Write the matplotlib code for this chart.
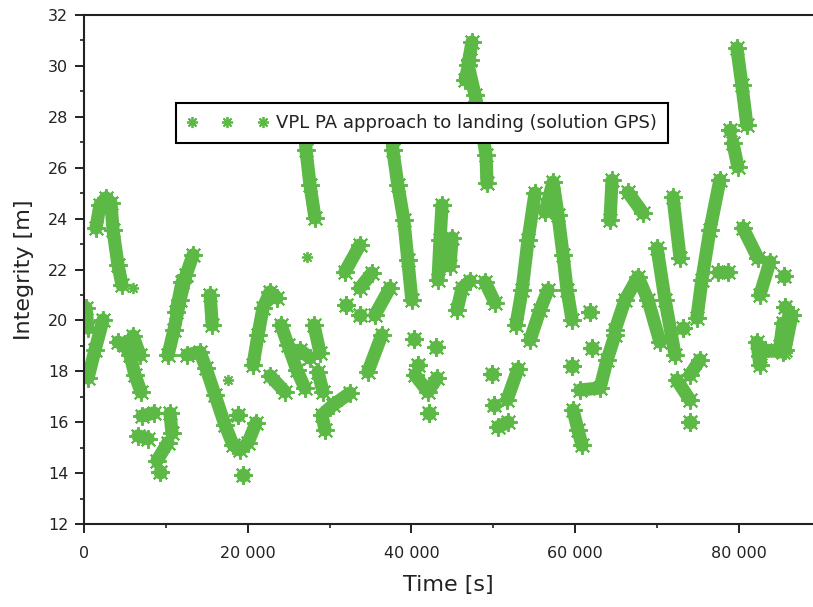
import matplotlib
matplotlib.use("Agg")
import matplotlib.pyplot as plt
from matplotlib.lines import Line2D
from matplotlib.ticker import MultipleLocator, FuncFormatter

GREEN = "#5cb946"
DARK = "#222222"

# continuous runs of the VPL series: time [s] and integrity [m]
seg_times = [
    [200, 450],
    [452, 1308, 2286],
    [1430, 1919, 2653, 3264, 3508, 4120, 4609],
    [4120, 4976, 5587, 6198, 6932],
    [5954, 6809],
    [7054, 8521],
    [10477, 10721],
    [6565, 7787],
    [10232, 8888],
    [10232, 10966, 11699, 12433, 13289],
    [11210, 11944],
    [15390, 15634],
    [12555, 14144, 14878, 15978, 17200, 18178, 19034, 20012, 20990],
    [20624, 21235, 21847, 22703, 23558],
    [22703, 24537],
    [24047, 24903, 26003, 26981],
    [26370, 27593],
    [28081, 28815],
    [28570, 29181],
    [26859, 27103, 27592, 28203],
    [29425, 29059, 30404, 32482],
    [31850, 33684],
    [33684, 35151],
    [35518, 37352],
    [34662, 36374],
    [37474, 37719, 38330, 39063, 39553, 40042],
    [40431, 42020, 43120],
    [43732, 43487, 43242],
    [44955, 44710],
    [45566, 46177, 47155],
    [48988, 50211],
    [47400, 46910, 47767, 48622, 49111, 49233],
    [46544, 47155],
    [51678, 53023],
    [50578, 51800],
    [52780, 53514, 54247, 55103],
    [54492, 55715, 56693],
    [56326, 57304, 57915, 58527, 59016, 59627],
    [59749, 60361, 60850],
    [60606, 63051, 63907, 64881],
    [64881, 66104, 67693, 68915, 70382],
    [64514, 64270],
    [66470, 68303],
    [71976, 72832],
    [70023, 71001, 72223],
    [74033, 75256],
    [72443, 74033],
    [74889, 75500, 76478, 77701],
    [79779, 80390, 81001],
    [79291, 79902],
    [80513, 82347],
    [77456, 78679],
    [83814, 82592],
    [82225, 82592],
    [82592, 83203, 85405],
    [85649, 86505],
    [85050, 85405],
]
seg_values = [
    [20.5, 19.7],
    [17.74, 18.84, 20.02],
    [23.63, 24.53, 24.81, 24.61, 23.55, 22.18, 21.39],
    [19.15, 19.04, 18.64, 17.86, 17.19],
    [19.39, 18.64],
    [16.25, 16.37],
    [16.36, 15.58],
    [15.47, 15.36],
    [15.21, 14.50],
    [18.64, 19.63, 20.80, 21.78, 22.57],
    [20.32, 21.5],
    [21.0, 19.82],
    [18.65, 18.76, 18.13, 17.07, 15.9, 15.12, 14.92, 15.2, 15.98],
    [18.25, 19.43, 20.49, 21.12, 20.88],
    [17.83, 17.2],
    [19.82, 19.04, 18.04, 17.34],
    [18.84, 18.53],
    [19.82, 18.73],
    [17.98, 17.2],
    [27.87, 26.69, 25.32, 24.02],
    [15.7, 16.29, 16.68, 17.15],
    [21.9, 22.96],
    [21.27, 21.86],
    [20.21, 21.27],
    [17.98, 19.43],
    [27.87, 26.69, 25.32, 23.94, 22.37, 20.8],
    [17.86, 17.2, 17.74],
    [24.53, 23.16, 21.59],
    [23.24, 22.14],
    [20.41, 21.27, 21.55],
    [21.51, 20.69],
    [30.93, 30.03, 28.85, 27.47, 26.49, 25.39],
    [29.44, 30.22],
    [16.88, 18.1],
    [15.82, 16.01],
    [19.82, 21.19, 23.16, 25.0],
    [19.23, 20.41, 21.2],
    [24.25, 25.43, 24.14, 22.57, 21.2, 20.02],
    [16.48, 15.69, 15.1],
    [17.27, 17.35, 18.45, 19.43],
    [19.63, 20.8, 21.71, 20.8, 19.15],
    [25.5, 23.93],
    [25.03, 24.21],
    [24.84, 22.45],
    [22.84, 20.8, 18.64],
    [17.86, 18.45],
    [17.66, 16.88],
    [20.09, 21.59, 23.55, 25.51],
    [30.69, 29.24, 27.67],
    [26.97, 26.03],
    [23.63, 22.45],
    [21.9, 21.9],
    [22.3, 21.0],
    [19.15, 18.25],
    [18.6, 18.84, 18.76],
    [18.84, 20.21],
    [19.0, 19.9],
]

# short clusters of samples
blob_times = [9254, 18790, 19401, 31973, 33684, 40308, 42999, 40797, 42142,
              49844, 50089, 59627, 61829, 62074, 73177, 74033, 85527, 85649, 78924]
blob_values = [14.05, 16.29, 13.94, 20.6, 20.21, 19.27, 18.96, 18.25, 16.37,
               17.9, 16.68, 18.21, 20.33, 18.92, 19.7, 16.0, 21.74, 20.52, 27.48]

# isolated single samples
single_times = [5954, 27226, 17567]
single_values = [21.27, 22.49, 17.66]

LABEL = "VPL PA approach to landing (solution GPS)"
ASTER = (8, 2, 0)

fig = plt.figure(figsize=(8.13, 6.07), dpi=100)
ax = fig.add_axes([84.3 / 813, 1 - 524.3 / 607, (813 - 84.3) / 813, (524.3 - 14.7) / 607])

for t, v in zip(seg_times, seg_values):
    ax.plot(t, v, color=GREEN, lw=9.5, solid_capstyle="round", solid_joinstyle="round", zorder=2)
    ax.plot(t, v, ls="none", marker=ASTER, ms=13.5, mew=1.4, color=GREEN, zorder=2)

ax.plot(blob_times, blob_values, ls="none", marker="o", ms=10, color=GREEN, mew=0, zorder=2)
ax.plot(blob_times, blob_values, ls="none", marker=ASTER, ms=13.5, mew=1.5, color=GREEN, zorder=2)
ax.plot(single_times, single_values, ls="none", marker=ASTER, ms=8, mew=1.3, color=GREEN, zorder=2)

ax.set_xlim(0, (813 - 84.3) * 122.25)
ax.set_ylim(12, 32)

ax.xaxis.set_major_locator(MultipleLocator(20000))
ax.xaxis.set_minor_locator(MultipleLocator(10000))
ax.yaxis.set_major_locator(MultipleLocator(2))
ax.yaxis.set_minor_locator(MultipleLocator(1))
ax.xaxis.set_major_formatter(FuncFormatter(lambda x, p: f"{int(round(x)):,}".replace(",", " ")))

for s in ["left", "bottom", "top"]:
    ax.spines[s].set_linewidth(1.5)
    ax.spines[s].set_color(DARK)
ax.spines["right"].set_visible(False)

ax.tick_params(which="major", direction="out", length=6.5, width=1.4, color=DARK,
               labelsize=11.5, labelcolor=DARK, pad=5)
ax.tick_params(which="minor", direction="out", length=3, width=1.2, color=DARK)
ax.tick_params(axis="x", which="both", top=False)
ax.tick_params(axis="x", which="major", pad=9)

ax.set_xlabel("Time [s]", fontsize=16, color=DARK, labelpad=10)
ax.set_ylabel("Integrity [m]", fontsize=16, color=DARK, labelpad=10)

handle = Line2D([], [], ls="none", marker=ASTER, ms=8, mew=1.3, color=GREEN)
leg = ax.legend([handle], [LABEL], loc="upper left",
                bbox_to_anchor=((176 - 84.3) / 728.7, 1 - (103 - 14.7) / 509.6),
                borderaxespad=0, numpoints=3, handlelength=4.5, handletextpad=0.45,
                fontsize=13, frameon=True, fancybox=False, framealpha=1,
                edgecolor="black", borderpad=0.6)
leg.get_frame().set_linewidth(1.5)
for txt in leg.get_texts():
    txt.set_color(DARK)
leg.set_zorder(5)

fig.savefig("out.png", dpi=100)
